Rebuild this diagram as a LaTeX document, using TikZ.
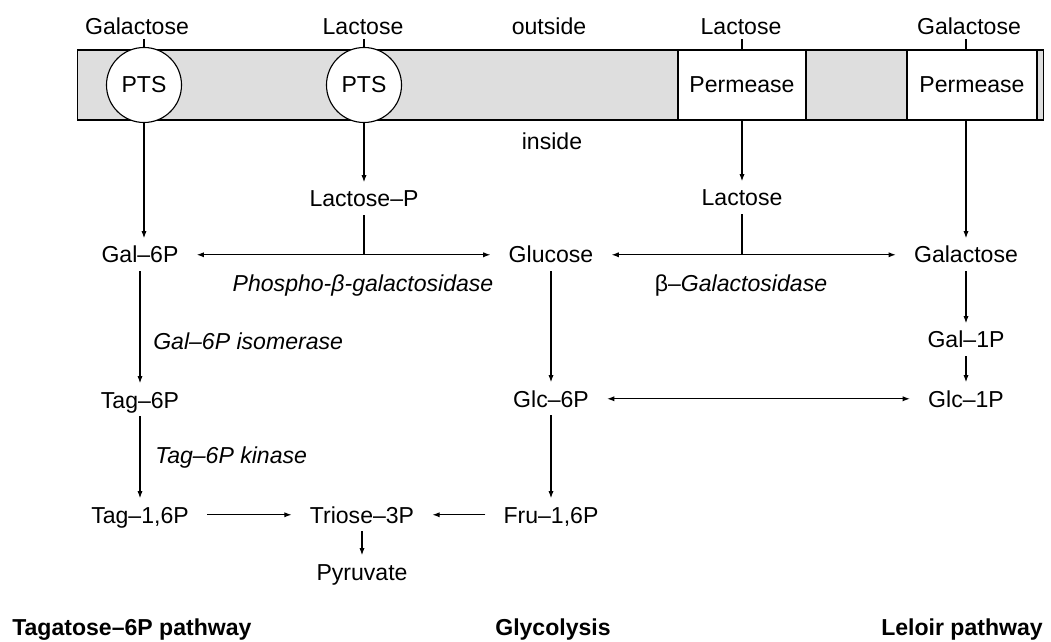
\documentclass[tikz,border=0pt]{standalone}
\usepackage{fontspec}
\setmainfont{Liberation Sans}
\usetikzlibrary{arrows.meta}
\newcommand{\txtsize}{\fontsize{16.4}{19}\selectfont}
\tikzset{
  met/.style={font=\txtsize, inner xsep=0.45cm, inner ysep=0.2cm, text height=11.7pt, text depth=0pt, anchor=base},
  outl/.style={met, inner ysep=0.1cm},
  enz/.style={font=\txtsize\itshape, inner sep=0pt, anchor=base west},
  pwy/.style={font=\txtsize\bfseries, inner sep=0pt, anchor=base},
  membrane/.style={draw, fill=black!13, line width=0.8pt, minimum width=24.125cm, minimum height=1.75cm, inner sep=0pt},
  pts/.style={circle, draw, fill=white, line width=0.8pt, minimum size=1.875cm, inner sep=0pt, font=\txtsize},
  perm/.style={draw, fill=white, line width=0.8pt, minimum height=1.75cm, inner sep=0pt, font=\txtsize},
  arr/.style={-{Latex[length=1.8mm,width=1.3mm]}, line width=0.8pt},
  dbl/.style={{Latex[length=1.8mm,width=1.3mm]}-{Latex[length=1.8mm,width=1.3mm]}, line width=0.8pt},
  ln/.style={line width=0.8pt}
}
\begin{document}
\begin{tikzpicture}[x=0.025cm, y=-0.025cm]
\useasboundingbox (0,0) rectangle (1051,642);
% membrane with transporters
\node[membrane] (memb) at (560.5,85) {};
\draw[ln] (1037,50) -- (1037,120);
\node[pts] (pts1) at (144,85) {PTS};
\node[pts] (pts2) at (364,85) {PTS};
\node[perm, minimum width=3.2cm] (perm1) at (742,85) {Permease};
\node[perm, minimum width=3.25cm] (perm2) at (972,85) {Permease};
% outside
\node[outl] (galo1) at (137,35) {Galactose};
\node[outl] (laco1) at (363,35) {Lactose};
\node[outl] (outs) at (549,35) {outside};
\node[outl] (laco2) at (741,35) {Lactose};
\node[outl] (galo2) at (969,35) {Galactose};
\node[met] (ins) at (552,150) {inside};
% metabolites
\node[met] (lacp) at (364,207) {Lactose–P};
\node[met] (lac) at (742,206) {Lactose};
\node[met] (gal6p) at (140,263) {Gal–6P};
\node[met] (glc) at (551,263) {Glucose};
\node[met] (gal) at (966,263) {Galactose};
\node[met] (gal1p) at (966,348) {Gal–1P};
\node[met] (glc6p) at (551,407) {Glc–6P};
\node[met] (glc1p) at (966,407) {Glc–1P};
\node[met] (tag6p) at (140,408) {Tag–6P};
\node[met] (tag16p) at (140,523) {Tag–1,6P};
\node[met] (tri) at (362,523) {Triose–3P};
\node[met] (fru) at (551,523) {Fru–1,6P};
\node[met] (pyr) at (362,580) {Pyruvate};
% enzymes
\node[enz, anchor=base] (phgal) at (363,292) {Phospho-β-galactosidase};
\node[enz, anchor=base] (bgal) at (741,292) {\upshape β–\itshape Galactosidase};
\node[enz] (isom) at (153,350) {Gal–6P isomerase};
\node[enz] (kin) at (155,463) {Tag–6P kinase};
% pathways
\node[pwy, anchor=base west] (tpw) at (12,635) {Tagatose–6P pathway};
\node[pwy] (gly) at (553,635) {Glycolysis};
\node[pwy, anchor=base east] (lel) at (1043,635) {Leloir pathway};
% connectors
\draw[ln] (pts1.north) -- (pts1.north |- galo1.south);
\draw[ln] (pts2.north) -- (pts2.north |- laco1.south);
\draw[ln] (laco2.south -| perm1) -- (perm1.north);
\draw[ln] (gal |- galo2.south) -- (gal |- perm2.north);
\draw[arr] (pts1.south) -- (pts1.south |- gal6p.north);
\draw[arr] (pts2) -- (lacp);
\draw[arr] (perm1) -- (lac);
\draw[arr] (gal |- perm2.south) -- (gal);
\draw[ln] (lacp) -- (lacp |- gal6p);
\draw[dbl] (gal6p) -- (glc);
\draw[ln] (lac) -- (lac |- glc);
\draw[dbl] (glc) -- (gal);
\draw[arr] (glc) -- (glc6p);
\draw[arr] (gal) -- (gal1p);
\draw[arr] (gal1p) -- (glc1p);
\draw[dbl] (glc6p) -- (glc1p);
\draw[arr] (gal6p) -- (tag6p);
\draw[arr] (tag6p) -- (tag16p);
\draw[arr] (glc6p) -- (fru);
\draw[arr] (tag16p) -- (tri);
\draw[arr] (fru) -- (tri);
\draw[arr] (tri) -- (pyr);
\end{tikzpicture}
\end{document}
